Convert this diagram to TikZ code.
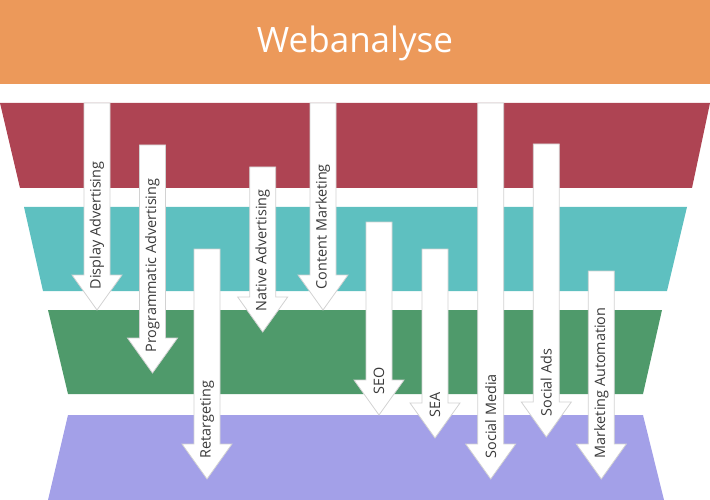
\documentclass[tikz,border=0pt]{standalone}
\usepackage{fontspec}
\setmainfont{Open Sans}
\definecolor{bannerC}{HTML}{EC995A}
\definecolor{redC}{HTML}{AE4453}
\definecolor{tealC}{HTML}{5EC0C0}
\definecolor{greenC}{HTML}{4F9A6B}
\definecolor{purpleC}{HTML}{A3A0E8}
\definecolor{edgeC}{HTML}{D2D2D2}
\definecolor{txtC}{HTML}{3A3A3A}
\tikzset{
  band/.style={draw=none},
  arrowshape/.style={fill=white, draw=edgeC, line width=0.8pt, line join=miter},
  arrowlabel/.style={rotate=90, anchor=west, inner sep=0pt, text=txtC, font=\fontsize{14.4}{17}\selectfont},
}
\newcommand\mydownarrow[5]{% name, cx, top, tip, label
  \path[arrowshape] ({#2-13},#3) -- ({#2+13},#3) -- ({#2+13},{#4-35}) -- ({#2+25},{#4-35})
     -- (#2,#4) -- ({#2-25},{#4-35}) -- ({#2-13},{#4-35}) -- cycle;
  \node[arrowlabel] (#1) at (#2,{#4-20.5}) {#5};
}
\begin{document}
\begin{tikzpicture}[x=1pt,y=-1pt]
\useasboundingbox (0,0) rectangle (710,500);
\fill[bannerC] (0,0) rectangle (710,84);
\node[text=white, font=\fontsize{35}{40}\selectfont] (title) at (355,43) {Webanalyse};
\fill[redC] (0,103) -- (710,103) -- (692,188) -- (20,188) -- cycle;
\fill[tealC] (24,207) -- (687,207) -- (667,291) -- (43,291) -- cycle;
\fill[greenC] (48,310) -- (662,310) -- (643,394) -- (68,394) -- cycle;
\fill[purpleC] (68,415) -- (643,415) -- (664,500) -- (48,500) -- cycle;
\mydownarrow{a1}{97}{103}{310}{Display Advertising}
\mydownarrow{a2}{152.5}{145}{373}{Programmatic Advertising}
\mydownarrow{a3}{207}{249}{479}{Retargeting}
\mydownarrow{a4}{262.7}{167}{332}{Native Advertising}
\mydownarrow{a5}{323}{103}{310}{Content Marketing}
\mydownarrow{a6}{379}{222}{415}{SEO}
\mydownarrow{a7}{435}{249}{438}{SEA}
\mydownarrow{a8}{490.7}{103}{479}{Social Media}
\mydownarrow{a9}{546.3}{144}{437}{Social Ads}
\mydownarrow{a10}{601.3}{271}{479}{Marketing Automation}
\end{tikzpicture}
\end{document}
